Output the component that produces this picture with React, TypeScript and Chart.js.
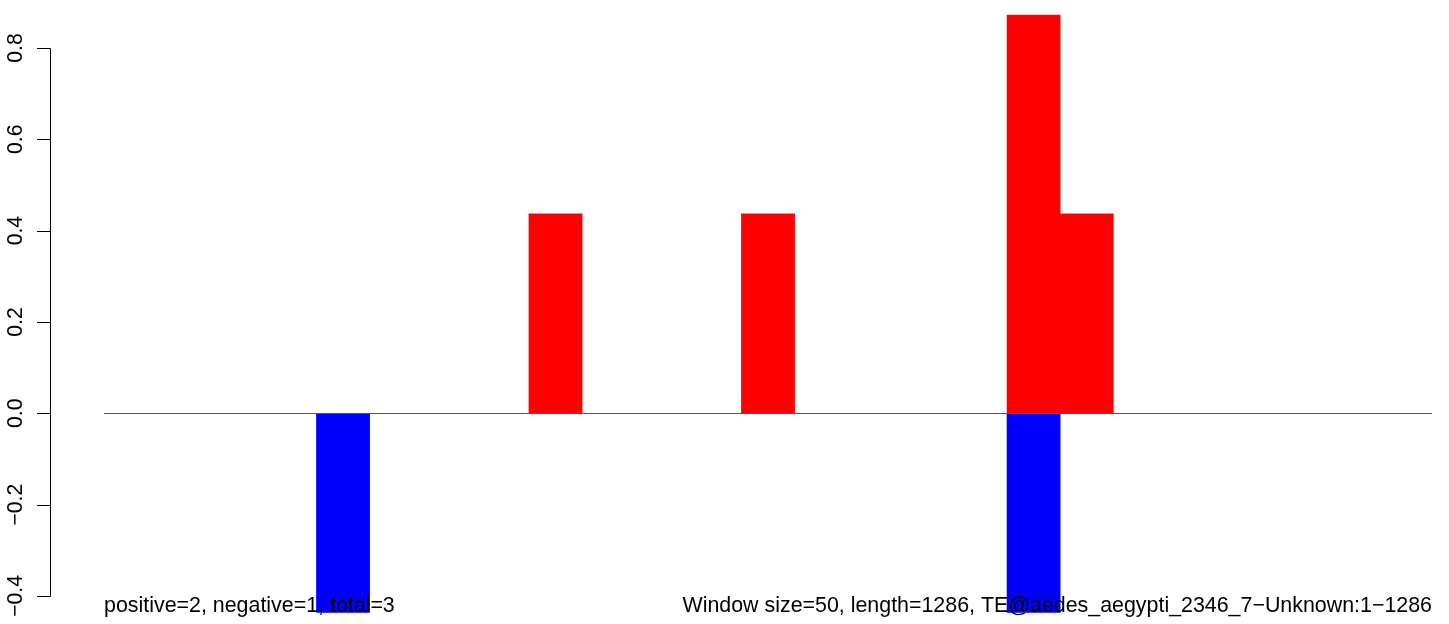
import React, { useEffect, useRef } from "react";
import { Chart, registerables } from "chart.js";

Chart.register(...registerables);

// Windows (25 windows of size 50 along the sequence)
const windowLabels: string[] = Array.from({ length: 25 }, (_, i) => String(i + 1));
const positiveValues: number[] = [0, 0, 0, 0, 0, 0, 0, 0, 0.436, 0, 0, 0, 0.436, 0, 0, 0, 0, 0.872, 0.436, 0, 0, 0, 0, 0, 0];
const negativeValues: number[] = [0, 0, 0, 0, -0.436, 0, 0, 0, 0, 0, 0, 0, 0, 0, 0, 0, 0, -0.436, 0, 0, 0, 0, 0, 0, 0];
const yTickValues: number[] = [-0.4, -0.2, 0.0, 0.2, 0.4, 0.6, 0.8];
const leftNote = "positive=2, negative=1, total=3";
const rightNote = "Window size=50, length=1286, TE@aedes_aegypti_2346_7\u2212Unknown:1\u22121286";

const FONT = "Liberation Sans, Arial, Helvetica, sans-serif";

const fmtTick = (v: number) => {
  const s = Math.abs(v).toFixed(1);
  return v < -1e-9 ? "\u2212" + s : s;
};

const overlayPlugin = {
  id: "rOverlay",
  afterDatasetsDraw(chart: any) {
    const ctx = chart.ctx;
    const ys = chart.scales.y;
    const area = chart.chartArea;
    ctx.save();
    // zero reference line
    const y0 = Math.round(ys.getPixelForValue(0)) + 0.5;
    ctx.strokeStyle = "#555555";
    ctx.lineWidth = 1;
    ctx.beginPath();
    ctx.moveTo(area.left, y0);
    ctx.lineTo(area.right, y0);
    ctx.stroke();
    // R-style y axis line and ticks
    const axisX = 50.5;
    const yTop = Math.round(ys.getPixelForValue(yTickValues[yTickValues.length - 1])) + 0.5;
    const yBot = Math.round(ys.getPixelForValue(yTickValues[0])) + 0.5;
    ctx.strokeStyle = "#000000";
    ctx.beginPath();
    ctx.moveTo(axisX, yTop);
    ctx.lineTo(axisX, yBot);
    for (const v of yTickValues) {
      const py = Math.round(ys.getPixelForValue(v)) + 0.5;
      ctx.moveTo(37, py);
      ctx.lineTo(axisX, py);
    }
    ctx.stroke();
    // bottom notes
    ctx.fillStyle = "#000000";
    ctx.font = `21.4px ${FONT}`;
    ctx.textBaseline = "alphabetic";
    ctx.textAlign = "left";
    ctx.fillText(leftNote, area.left, 612);
    ctx.textAlign = "right";
    ctx.fillText(rightNote, area.right, 612);
    ctx.restore();
  },
};

export default function App() {
  const canvasRef = useRef<HTMLCanvasElement | null>(null);

  useEffect(() => {
    if (!canvasRef.current) return;
    const chart = new Chart(canvasRef.current, {
      type: "bar",
      data: {
        labels: windowLabels,
        datasets: [
          {
            label: "positive",
            data: positiveValues,
            backgroundColor: "#ff0000",
            borderWidth: 0,
            barPercentage: 1,
            categoryPercentage: 1,
          },
          {
            label: "negative",
            data: negativeValues,
            backgroundColor: "#0000ff",
            borderWidth: 0,
            barPercentage: 1,
            categoryPercentage: 1,
          },
        ],
      },
      options: {
        responsive: false,
        animation: false,
        layout: { padding: { left: 0, right: 17, top: 0, bottom: 0 } },
        plugins: {
          legend: { display: false },
          tooltip: { enabled: false },
          title: { display: false },
        },
        scales: {
          x: {
            type: "category",
            stacked: true,
            display: false,
          },
          y: {
            type: "linear",
            stacked: true,
            position: "left",
            min: -0.4614,
            max: 0.905,
            border: { display: false },
            grid: { display: false, drawTicks: false },
            afterBuildTicks: (scale: any) => {
              scale.ticks = yTickValues.map((v) => ({ value: v }));
            },
            afterFit: (scale: any) => {
              scale.width = 104;
              scale.paddingTop = 0;
              scale.paddingBottom = 0;
            },
            ticks: {
              minRotation: 90,
              maxRotation: 90,
              crossAlign: "center",
              padding: 67,
              color: "#000000",
              font: { family: FONT, size: 21.2 },
              callback: (v: any) => fmtTick(Number(v)),
            },
          },
        },
      },
      plugins: [overlayPlugin],
    });
    return () => chart.destroy();
  }, []);

  return (
    <div style={{ position: "absolute", left: 0, top: 0, width: 1449, height: 624, background: "#ffffff" }}>
      <canvas ref={canvasRef} width={1449} height={624} />
    </div>
  );
}
